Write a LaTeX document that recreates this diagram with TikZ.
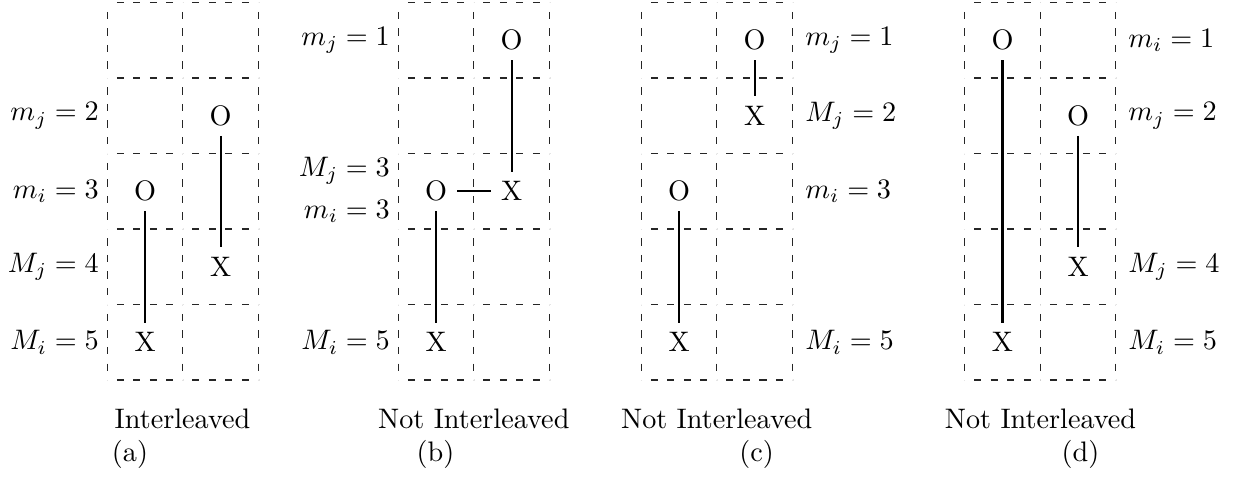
\documentclass[tikz,border=0pt]{standalone}
\usetikzlibrary{decorations}
\newcommand\cellgrid[1]{%
  \foreach \r in {0,...,5}{\foreach \c in {0,1}{%
    \draw[cellbox] (#1+\c*75.6, 2.5+\r*75.5) -- ++(75.6,0);}}%
  \foreach \r in {0,...,4}{\foreach \c in {0,1,2}{%
    \draw[cellbox] (#1+\c*75.6, 2.5+\r*75.5) -- ++(0,75.5);}}}
\begin{document}
\begin{tikzpicture}[x=0.3546pt,y=-0.3546pt,
  cellbox/.style={dash pattern=on 2.5pt off 2.8pt,dash expand off,line width=0.4pt,black!85},
  sym/.style={inner sep=3.333pt},
  link/.style={line width=0.75pt},
  lbl/.style={inner sep=3.333pt},
  captxt/.style={anchor=base,inner sep=0pt}]
\useasboundingbox (0,0) rectangle (1234,479);
% grids
\cellgrid{107.3}
\cellgrid{398.3}
\cellgrid{641.3}
\cellgrid{964.7}
% (a)
\node[sym] (aO1) at (145.1,191.25) {O};
\node[sym] (aX1) at (145.1,342.25) {X};
\node[sym] (aO2) at (220.7,115.75) {O};
\node[sym] (aX2) at (220.7,266.75) {X};
\draw[link] (aO1) -- (aX1);
\draw[link] (aO2) -- (aX2);
\node[lbl,anchor=east] (aL2) at (108.8,115.75) {$m_j = 2$};
\node[lbl,anchor=east] (aL3) at (108.8,191.25) {$m_i = 3$};
\node[lbl,anchor=east] (aL4) at (108.8,266.75) {$M_j = 4$};
\node[lbl,anchor=east] (aL5) at (108.8,342.25) {$M_i = 5$};
\node[captxt] (aT) at (182.5,428.7) {Interleaved};
\node[captxt] (aC) at (130,461) {(a)};
% (b)
\node[sym] (bO2) at (511.7,40.25) {O};
\node[sym] (bX2) at (511.7,191.25) {X};
\node[sym] (bO1) at (436.1,191.25) {O};
\node[sym] (bX1) at (436.1,342.25) {X};
\draw[link] (bO2) -- (bX2);
\draw[link] (bO1) -- (bX1);
\draw[link] (bO1) -- (bX2);
\node[lbl,anchor=east] (bL1) at (399.8,40.25) {$m_j = 1$};
\node[lbl,anchor=east] (bL3a) at (399.8,171) {$M_j = 3$};
\node[lbl,anchor=east] (bL3b) at (399.8,211.5) {$m_i = 3$};
\node[lbl,anchor=east] (bL5) at (399.8,342.25) {$M_i = 5$};
\node[captxt] (bT) at (473.8,428.7) {Not Interleaved};
\node[captxt] (bC) at (435.5,461) {(b)};
% (c)
\node[sym] (cO2) at (754.7,40.25) {O};
\node[sym] (cX2) at (754.7,115.75) {X};
\node[sym] (cO1) at (679.1,191.25) {O};
\node[sym] (cX1) at (679.1,342.25) {X};
\draw[link] (cO2) -- (cX2);
\draw[link] (cO1) -- (cX1);
\node[lbl,anchor=west] (cL1) at (795.3,40.25) {$m_j = 1$};
\node[lbl,anchor=west] (cL2) at (795.3,115.75) {$M_j = 2$};
\node[lbl,anchor=west] (cL3) at (795.3,191.25) {$m_i = 3$};
\node[lbl,anchor=west] (cL5) at (795.3,342.25) {$M_i = 5$};
\node[captxt] (cT) at (716.7,428.7) {Not Interleaved};
\node[captxt] (cC) at (756.7,461) {(c)};
% (d)
\node[sym] (dO1) at (1002.5,40.25) {O};
\node[sym] (dX1) at (1002.5,342.25) {X};
\node[sym] (dO2) at (1078.1,115.75) {O};
\node[sym] (dX2) at (1078.1,266.75) {X};
\draw[link] (dO1) -- (dX1);
\draw[link] (dO2) -- (dX2);
\node[lbl,anchor=west] (dL1) at (1118.5,40.25) {$m_i = 1$};
\node[lbl,anchor=west] (dL2) at (1118.5,115.75) {$m_j = 2$};
\node[lbl,anchor=west] (dL4) at (1118.5,266.75) {$M_j = 4$};
\node[lbl,anchor=west] (dL5) at (1118.5,342.25) {$M_i = 5$};
\node[captxt] (dT) at (1040.5,428.7) {Not Interleaved};
\node[captxt] (dC) at (1080.5,461) {(d)};
\end{tikzpicture}
\end{document}
